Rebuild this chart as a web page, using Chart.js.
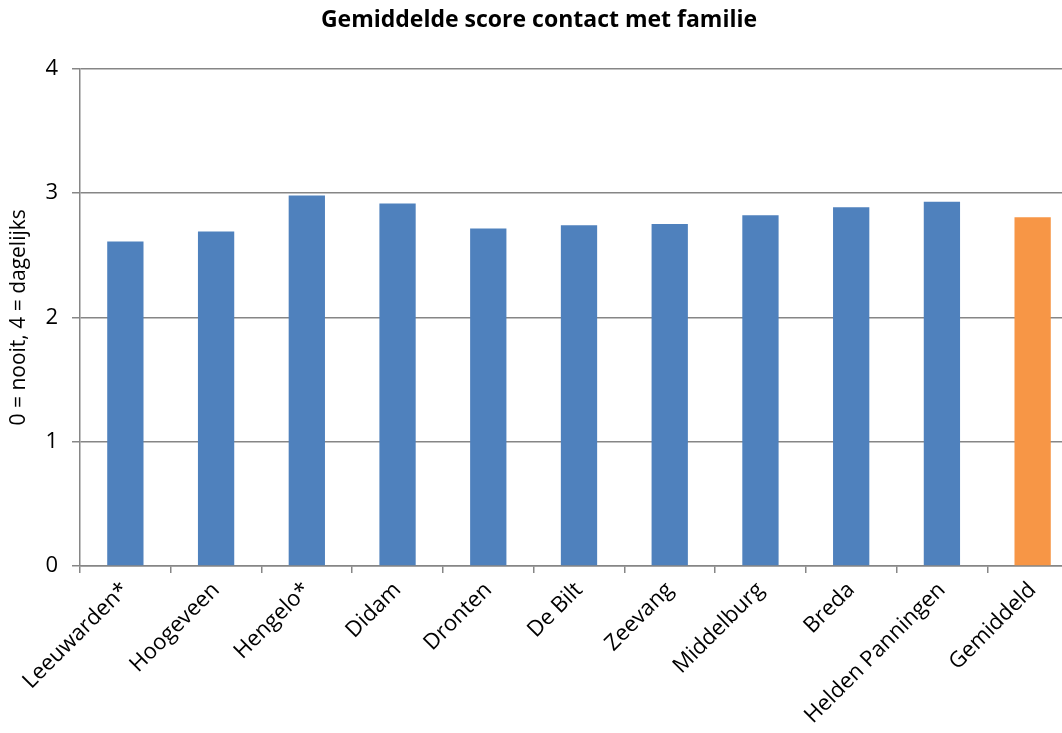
<!DOCTYPE html>
<html>
<head>
<meta charset="utf-8">
<script src="https://cdn.jsdelivr.net/npm/chart.js@4"></script>
<style>
  html, body { margin: 0; padding: 0; background: #fff; overflow: hidden; }
  #wrap { width: 1078px; height: 733px; }
</style>
</head>
<body>
<div id="wrap"><canvas id="scoreChart"></canvas></div>
<script>
// Chart data
const categories = [
  "Leeuwarden*", "Hoogeveen", "Hengelo*", "Didam", "Dronten", "De Bilt",
  "Zeevang", "Middelburg", "Breda", "Helden Panningen", "Gemiddeld"
];
const scores = [2.61, 2.69, 2.98, 2.915, 2.715, 2.74, 2.75, 2.82, 2.885, 2.93, 2.805];
const yTicks = [0, 1, 2, 3, 4];

const BLUE = "#4F81BD";
const ORANGE = "#F79646";
const GRID = "#868686";
const FONT = "'Open Sans', 'Liberation Sans', sans-serif";

const barColors = categories.map((c) => (c === "Gemiddeld" ? ORANGE : BLUE));

new Chart(document.getElementById("scoreChart"), {
  type: "bar",
  data: {
    labels: categories,
    datasets: [
      {
        data: scores,
        backgroundColor: barColors,
        categoryPercentage: 1,
        barPercentage: 0.4,
      },
    ],
  },
  options: {
    responsive: true,
    maintainAspectRatio: false,
    animation: false,
    layout: { padding: { top: 4, right: 0, bottom: 0, left: 0 } },
    plugins: {
      legend: { display: false },
      tooltip: { enabled: false },
      title: {
        display: true,
        text: "Gemiddelde score contact met familie",
        color: "#000",
        font: { family: FONT, size: 23, weight: "bold" },
        padding: { top: 3, bottom: 34 },
      },
    },
    scales: {
      x: {
        grid: {
          drawOnChartArea: false,
          tickLength: 7,
          color: GRID,
          lineWidth: 1.5,
        },
        border: { color: GRID, width: 1.5 },
        ticks: {
          color: "#000",
          font: { family: FONT, size: 22 },
          minRotation: 45,
          maxRotation: 45,
          padding: 4,
        },
      },
      y: {
        min: 0,
        max: 4,
        afterBuildTicks: (axis) => {
          axis.ticks = yTicks.map((v) => ({ value: v }));
        },
        afterFit: (axis) => {
          axis.width = 80;
        },
        grid: { color: GRID, lineWidth: 1.5, tickLength: 8 },
        border: { color: GRID, width: 1.5 },
        ticks: {
          color: "#000",
          font: { family: FONT, size: 22 },
          padding: 14,
        },
        title: {
          display: true,
          text: "0 = nooit, 4 = dagelijks",
          color: "#000",
          font: { family: FONT, size: 21 },
          padding: { top: 6, bottom: 0 },
        },
      },
    },
  },
});
</script>
</body>
</html>
